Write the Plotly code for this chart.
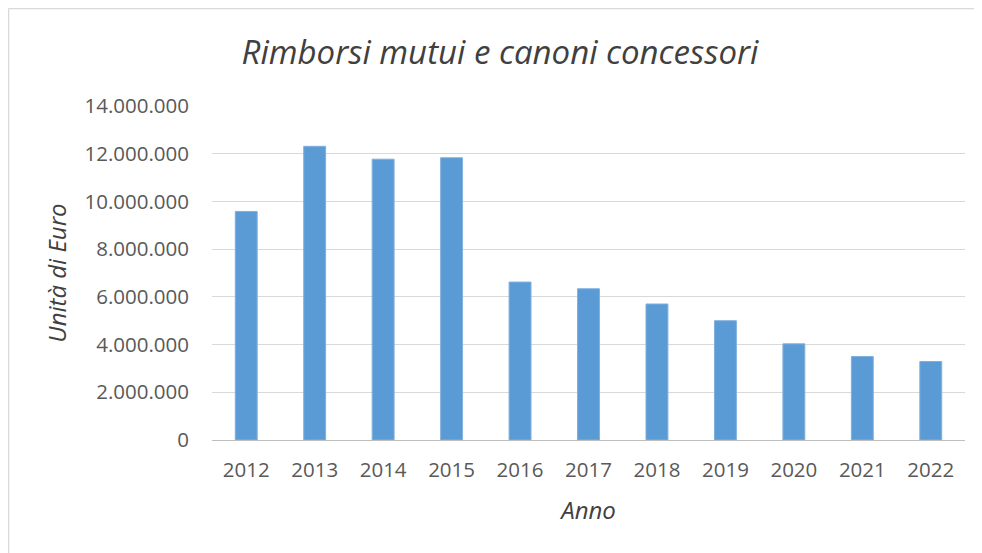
import plotly.graph_objects as go

anni = ["2012", "2013", "2014", "2015", "2016", "2017", "2018", "2019", "2020", "2021", "2022"]
valori = [9580000, 12310000, 11770000, 11830000, 6620000, 6340000, 5700000, 5000000, 4030000, 3500000, 3290000]
y_ticks = [0, 2000000, 4000000, 6000000, 8000000, 10000000, 12000000, 14000000]

FONT = "Open Sans, sans-serif"
GREY = "#595959"

W, H = 974, 545
L, R, T, B = 204, 17, 98, 113
PW, PH = W - L - R, H - T - B

fig = go.Figure(go.Bar(
    x=anni, y=valori,
    marker=dict(color="#5B9BD5", line=dict(color="#7fb0de", width=1)),
))

border = dict(color="#d9d9d9", width=1.5)
x_left, x_right = (0.5 - L) / PW, (W - L) / PW
y_top, y_bottom = (PH + T - 0.5) / PH, (PH + T - H) / PH

fig.update_layout(
    width=W, height=H,
    margin=dict(l=L, r=R, t=T, b=B),
    paper_bgcolor="white", plot_bgcolor="white",
    separators=",.",
    bargap=0.68,
    showlegend=False,
    font=dict(family=FONT, color=GREY),
    title=dict(text="<i>Rimborsi mutui e canoni concessori</i>",
               x=492 / W, xref="container", xanchor="center",
               y=1 - 44 / H, yref="container", yanchor="middle",
               font=dict(size=33, family=FONT, color="#404040")),
    shapes=[
        dict(type="line", xref="paper", yref="paper", x0=x_left, x1=x_right, y0=y_top, y1=y_top,
             line=border, layer="below"),
        dict(type="line", xref="paper", yref="paper", x0=x_left, x1=x_left, y0=y_bottom, y1=y_top,
             line=border, layer="below"),
    ],
)

fig.update_yaxes(
    range=[0, 14000000], tickvals=y_ticks, tickformat=",d",
    showgrid=True, gridcolor="#d9d9d9", gridwidth=1,
    zeroline=False, showline=False,
    ticks="", ticklabelstandoff=22,
    tickfont=dict(size=20.5, family=FONT, color=GREY),
    title=dict(text="<i>Unità di Euro</i>", standoff=11,
               font=dict(size=24, family=FONT, color="#404040")),
)
fig.update_xaxes(
    showline=True, linecolor="#bfbfbf", linewidth=1,
    ticks="", ticklabelstandoff=11,
    tickfont=dict(size=20.5, family=FONT, color=GREY),
    title=dict(text="<i>Anno</i>", standoff=20,
               font=dict(size=24, family=FONT, color="#404040")),
)

fig.write_html("out.html")
